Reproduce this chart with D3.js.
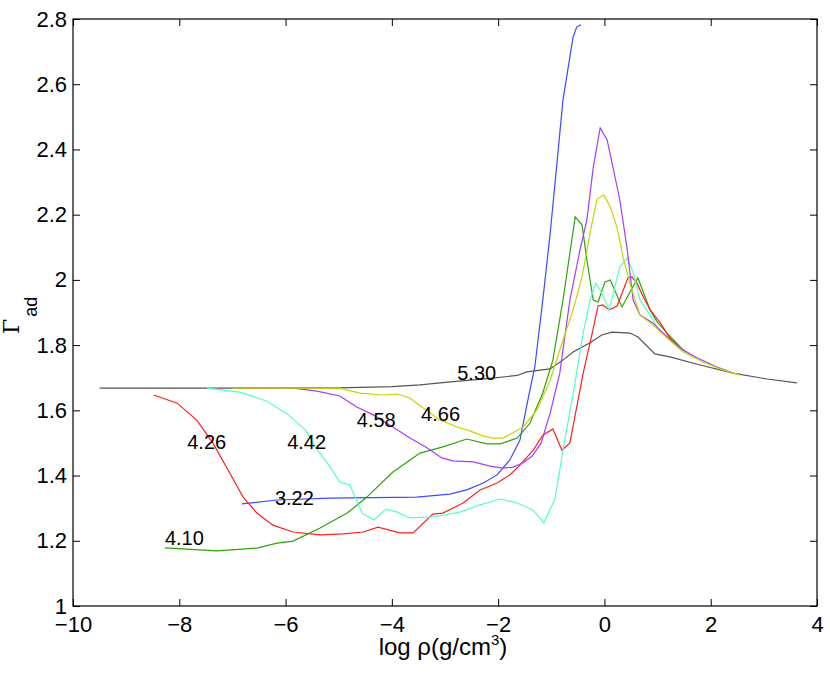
<!DOCTYPE html>
<html lang="en">
<head>
<meta charset="utf-8">
<title>Adiabatic index vs density</title>
<script src="https://d3js.org/d3.v7.min.js"></script>
<style>
  body { margin: 0; background: #fff; }
  svg { font-family: "Liberation Sans", Arial, sans-serif; }
  .lbl { font-size: 20px; fill: #000; }
</style>
</head>
<body>
<svg width="830" height="674"></svg>
<script>
// tick values
const xTicks = [-10, -8, -6, -4, -2, 0, 2, 4];
const yTicks = [1, 1.2, 1.4, 1.6, 1.8, 2, 2.2, 2.4, 2.6, 2.8];

// curves, [log rho, Gamma_ad]
const c322 = [[-6.82,1.313],[-6.16,1.325],[-5.16,1.331],[-3.53,1.334],[-2.91,1.343],[-2.59,1.356],
  [-2.28,1.377],[-2.02,1.402],[-1.78,1.448],[-1.59,1.509],[-1.44,1.632],[-1.31,1.733],[-1.16,1.938],
  [-1.02,2.144],[-0.87,2.398],[-0.78,2.552],[-0.68,2.653],[-0.59,2.745],[-0.52,2.776],[-0.44,2.782]];

const c410 = [[-8.27,1.178],[-7.29,1.169],[-6.52,1.178],[-6.16,1.193],[-5.86,1.199],[-5.35,1.239],
  [-4.84,1.285],[-4.47,1.334],[-3.98,1.411],[-3.47,1.469],[-3.04,1.488],[-2.59,1.512],[-2.21,1.497],
  [-1.96,1.497],[-1.64,1.515],[-1.40,1.561],[-1.16,1.653],[-0.97,1.754],[-0.78,1.938],[-0.65,2.082],
  [-0.55,2.193],[-0.42,2.168],[-0.33,2.061],[-0.21,1.938],[-0.12,1.932],[0.01,1.994],[0.11,2.000],
  [0.33,1.917],[0.48,1.963],[0.63,2.006],[0.86,1.908],[0.99,1.871],[1.18,1.837],[1.48,1.785]];

const c426 = [[-8.48,1.647],[-8.04,1.622],[-7.67,1.570],[-7.37,1.500],[-7.05,1.408],[-6.80,1.334],
  [-6.54,1.285],[-6.24,1.248],[-5.86,1.227],[-5.35,1.218],[-4.92,1.221],[-4.54,1.227],[-4.26,1.242],
  [-3.85,1.224],[-3.60,1.224],[-3.23,1.282],[-3.04,1.285],[-2.66,1.316],[-2.34,1.356],[-2.02,1.377],
  [-1.78,1.402],[-1.59,1.432],[-1.34,1.478],[-1.16,1.524],[-0.97,1.543],[-0.80,1.478],[-0.65,1.500],
  [-0.40,1.714],[-0.23,1.837],[-0.12,1.920],[-0.03,1.923],[0.09,1.908],[0.24,1.920],[0.44,2.006],
  [0.52,2.009],[0.61,1.990],[0.73,1.948],[0.86,1.908],[1.05,1.868],[1.23,1.822],[1.52,1.779]];

const c442 = [[-7.48,1.668],[-6.86,1.656],[-6.35,1.628],[-5.97,1.589],[-5.63,1.540],[-5.41,1.481],
  [-5.16,1.426],[-4.98,1.380],[-4.79,1.371],[-4.56,1.285],[-4.34,1.264],[-4.11,1.297],[-3.90,1.288],
  [-3.66,1.270],[-3.23,1.273],[-2.72,1.288],[-2.34,1.310],[-1.96,1.328],[-1.64,1.316],[-1.34,1.294],
  [-1.14,1.255],[-0.93,1.328],[-0.78,1.478],[-0.57,1.668],[-0.40,1.837],[-0.27,1.938],[-0.16,1.990],
  [-0.05,1.960],[0.09,1.908],[0.29,2.040],[0.43,2.067],[0.54,2.024],[0.67,1.938],[0.86,1.892],
  [0.99,1.856],[1.29,1.807],[1.61,1.770],[1.99,1.739],[2.36,1.718]];

const c458 = [[-7.0,1.668],[-5.86,1.668],[-5.41,1.659],[-4.98,1.644],[-4.66,1.610],[-4.35,1.586],
  [-3.98,1.549],[-3.66,1.515],[-3.34,1.485],[-3.06,1.454],[-2.85,1.445],[-2.47,1.442],[-2.15,1.429],
  [-1.91,1.423],[-1.72,1.426],[-1.53,1.439],[-1.36,1.460],[-1.19,1.500],[-1.02,1.592],[-0.84,1.714],
  [-0.65,1.938],[-0.46,2.092],[-0.33,2.184],[-0.21,2.346],[-0.08,2.466],[0.05,2.429],[0.16,2.346],
  [0.29,2.245],[0.43,2.092],[0.54,1.938],[0.67,1.892],[0.91,1.868],[1.10,1.837],[1.42,1.791],
  [1.74,1.761],[2.12,1.733],[2.42,1.714]];

const c466 = [[-7.0,1.668],[-4.98,1.668],[-4.60,1.653],[-4.17,1.647],[-3.90,1.650],[-3.66,1.638],
  [-3.41,1.607],[-3.09,1.570],[-2.77,1.549],[-2.53,1.537],[-2.28,1.521],[-2.10,1.515],[-1.91,1.515],
  [-1.72,1.531],[-1.53,1.549],[-1.27,1.601],[-1.02,1.693],[-0.84,1.785],[-0.59,1.908],[-0.42,2.009],
  [-0.27,2.144],[-0.14,2.248],[-0.01,2.260],[0.11,2.224],[0.24,2.159],[0.35,2.070],[0.48,1.990],
  [0.58,1.938],[0.67,1.892],[0.91,1.862],[1.18,1.822],[1.48,1.779],[1.86,1.748],[2.23,1.724],[2.55,1.708]];

const c530 = [[-9.5,1.668],[-7.0,1.668],[-5.0,1.669],[-4.0,1.673],[-3.47,1.678],[-2.9,1.687],
  [-2.2,1.697],[-1.64,1.707],[-1.46,1.718],[-1.02,1.727],[-0.78,1.754],[-0.59,1.779],[-0.27,1.807],
  [-0.05,1.831],[0.14,1.840],[0.48,1.837],[0.63,1.825],[0.95,1.773],[1.23,1.764],[1.80,1.739],
  [2.42,1.714],[3.06,1.696],[3.62,1.684]];

// curve labels: text and where they sit (data units, left/baseline)
const labelText = ["5.30", "4.58", "4.66", "4.42", "3.22", "4.26", "4.10"];
const labelX = [-2.77, -4.66, -3.45, -5.97, -6.20, -7.85, -8.27];
const labelY = [1.693, 1.549, 1.567, 1.481, 1.310, 1.481, 1.187];

const svg = d3.select("svg");
const padL = 73, padR = 817, padT = 19, padB = 606;

const x = d3.scaleLinear().domain([-10, 4]).range([padL, padR]);
const y = d3.scaleLinear().domain([1, 2.8]).range([padB, padT]);

const fmt = d => d < 0 ? "\u2212" + Math.abs(d) : String(d);

// curves
const series = [
  { d: c530, color: "#555555" },
  { d: c322, color: "#3a4cff" },
  { d: c410, color: "#2ea30f" },
  { d: c426, color: "#ff2020" },
  { d: c442, color: "#55ffc4" },
  { d: c458, color: "#a63cff" },
  { d: c466, color: "#c6d600" }
];

const line = d3.line().x(d => x(d[0])).y(d => y(d[1]));

svg.append("g")
  .selectAll("path")
  .data(series)
  .enter()
  .append("path")
  .attr("d", s => line(s.d))
  .attr("fill", "none")
  .attr("stroke", s => s.color)
  .attr("stroke-width", 1.2);

// axes, box style with inward ticks
const tickFont = g => g.attr("font-family", "'Liberation Sans', Arial, sans-serif")
  .attr("font-size", 22)
  .call(g => g.select(".domain").remove())
  .call(g => g.selectAll(".tick text").attr("fill", "#000"))
  .call(g => g.selectAll(".tick line").attr("stroke", "#000"));

svg.append("g")
  .attr("transform", "translate(0," + padB + ")")
  .call(d3.axisBottom(x).tickValues(xTicks).tickSize(-7).tickPadding(10).tickFormat(fmt))
  .call(tickFont);

svg.append("g")
  .attr("transform", "translate(0," + padT + ")")
  .call(d3.axisTop(x).tickValues(xTicks).tickSize(-7).tickFormat(""))
  .call(tickFont);

svg.append("g")
  .attr("transform", "translate(" + padL + ",0)")
  .call(d3.axisLeft(y).tickValues(yTicks).tickSize(-7).tickPadding(6).tickFormat(fmt))
  .call(tickFont);

svg.append("g")
  .attr("transform", "translate(" + padR + ",0)")
  .call(d3.axisRight(y).tickValues(yTicks).tickSize(-7).tickFormat(""))
  .call(tickFont);

svg.append("rect")
  .attr("x", padL).attr("y", padT)
  .attr("width", padR - padL).attr("height", padB - padT)
  .attr("fill", "none").attr("stroke", "#000").attr("stroke-width", 1.2);

// curve labels
svg.append("g")
  .selectAll("text")
  .data(labelText)
  .enter()
  .append("text")
  .attr("class", "lbl")
  .attr("x", (d, i) => x(labelX[i]))
  .attr("y", (d, i) => y(labelY[i]))
  .text(d => d);

// x label
const xl = svg.append("text")
  .attr("x", (padL + padR) / 2 - 2)
  .attr("y", 655)
  .attr("text-anchor", "middle")
  .style("font-size", "24px");
xl.append("tspan").text("log \u03c1(g/cm");
xl.append("tspan").attr("dy", -10).style("font-size", "15px").text("3");
xl.append("tspan").attr("dy", 10).text(")");

// y label
const yl = svg.append("text")
  .attr("transform", "translate(19,334) rotate(-90)")
  .style("font-size", "22px");
yl.append("tspan").style("font-family", "'DejaVu Serif', serif").text("\u0393");
yl.append("tspan").attr("dy", 18).attr("dx", 2).style("font-size", "18px").text("ad");
</script>
</body>
</html>
